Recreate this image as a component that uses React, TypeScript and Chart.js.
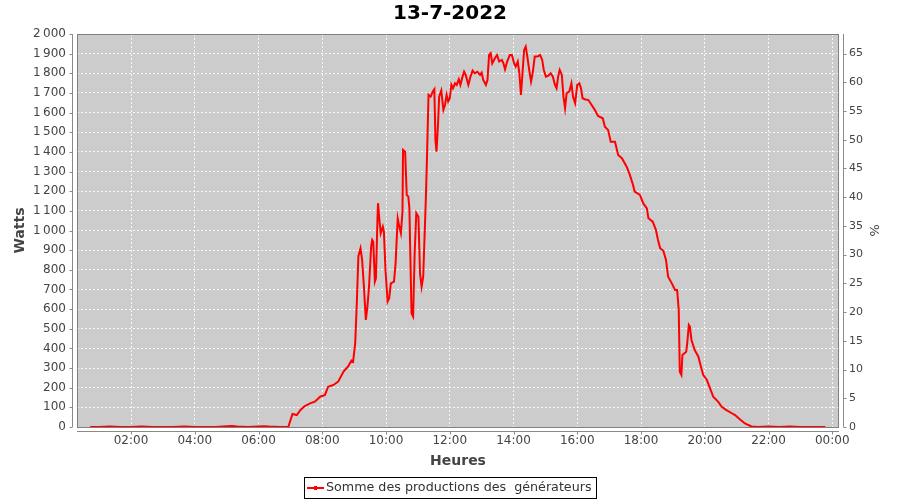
import React, { useEffect, useRef } from "react";
import { Chart, registerables } from "chart.js";

Chart.register(...registerables);

const chartTitle = "13-7-2022";
const seriesLabel = "Somme des productions des  générateurs";
const xAxisTitle = "Heures";
const yAxisTitle = "Watts";
const y2AxisTitle = "%";

const times = [
  "00:43", "01:00", "01:20", "01:40", "02:00", "02:20", "02:40", "03:00", "03:20", "03:40",
  "04:00", "04:20", "04:40", "05:00", "05:10", "05:20", "05:40", "06:00", "06:10", "06:20",
  "06:40", "06:56", "07:04", "07:12", "07:19", "07:27", "07:37", "07:46", "07:56", "08:05",
  "08:11", "08:21", "08:30", "08:40", "08:49", "08:55", "08:58", "09:02", "09:05", "09:08",
  "09:12", "09:15", "09:18", "09:22", "09:25", "09:28", "09:32", "09:34", "09:36", "09:39",
  "09:41", "09:44", "09:45", "09:47", "09:50", "09:54", "09:56", "09:59", "10:03", "10:06",
  "10:09", "10:15", "10:18", "10:22", "10:25", "10:28", "10:31", "10:32", "10:36", "10:39",
  "10:42", "10:44", "10:48", "10:51", "10:54", "10:57", "11:01", "11:04", "11:07", "11:10",
  "11:15", "11:17", "11:20", "11:24", "11:28", "11:31", "11:33", "11:35", "11:38", "11:40",
  "11:44", "11:48", "11:51", "11:54", "11:57", "12:00", "12:03", "12:06", "12:10", "12:13",
  "12:17", "12:20", "12:24", "12:27", "12:30", "12:35", "12:39", "12:43", "12:47", "12:52",
  "12:57", "13:00", "13:03", "13:08", "13:11", "13:14", "13:17", "13:20", "13:25", "13:29",
  "13:33", "13:38", "13:41", "13:44", "13:48", "13:53", "13:57", "14:01", "14:04", "14:08",
  "14:11", "14:14", "14:16", "14:20", "14:23", "14:26", "14:30", "14:33", "14:36", "14:40",
  "14:45", "14:50", "14:54", "14:57", "15:01", "15:05", "15:10", "15:14", "15:18", "15:21",
  "15:24", "15:27", "15:31", "15:34", "15:37", "15:40", "15:45", "15:49", "15:52", "15:56",
  "16:00", "16:04", "16:07", "16:10", "16:14", "16:21", "16:27", "16:33", "16:39", "16:48",
  "16:52", "16:58", "17:03", "17:11", "17:17", "17:24", "17:33", "17:39", "17:45", "17:48",
  "17:58", "18:04", "18:11", "18:14", "18:22", "18:28", "18:32", "18:36", "18:42", "18:47",
  "18:51", "18:58", "19:04", "19:08", "19:11", "19:13", "19:16", "19:18", "19:25", "19:27",
  "19:30", "19:32", "19:35", "19:41", "19:48", "19:52", "19:57", "20:04", "20:10", "20:16",
  "20:25", "20:32", "20:40", "20:51", "20:57", "21:06", "21:15", "21:22", "21:28", "21:40",
  "22:00", "22:20", "22:40", "23:00", "23:20", "23:47",
];

const watts = [
  0, 0, 2, 0, 0, 2, 0, 0, 0, 2,
  0, 0, 0, 4, 5, 2, 0, 3, 4, 2,
  0, 0, 66, 61, 87, 107, 120, 129, 154, 163,
  205, 214, 231, 282, 310, 338, 332, 426, 630, 870,
  910, 850, 731, 545, 612, 714, 918, 952, 943, 740,
  757, 1070, 1139, 1070, 986, 1020, 994, 799, 638, 655,
  731, 740, 833, 1062, 1020, 986, 1096, 1410, 1401, 1181,
  1172, 1113, 579, 562, 892, 1088, 1070, 782, 714, 765,
  1164, 1359, 1690, 1681, 1707, 1719, 1461, 1401, 1546, 1681,
  1712, 1614, 1639, 1690, 1656, 1673, 1741, 1724, 1749, 1741,
  1770, 1741, 1783, 1808, 1792, 1741, 1783, 1814, 1800, 1808,
  1792, 1803, 1766, 1741, 1766, 1893, 1902, 1851, 1877, 1893,
  1860, 1868, 1851, 1820, 1860, 1893, 1893, 1851, 1834, 1860,
  1800, 1690, 1766, 1919, 1936, 1885, 1808, 1758, 1800, 1885,
  1885, 1893, 1868, 1817, 1783, 1787, 1800, 1783, 1741, 1724,
  1783, 1817, 1792, 1681, 1622, 1699, 1707, 1749, 1681, 1648,
  1741, 1749, 1724, 1673, 1668, 1664, 1639, 1614, 1583, 1571,
  1528, 1512, 1452, 1452, 1384, 1368, 1325, 1283, 1232, 1198,
  1181, 1139, 1113, 1062, 1045, 1003, 952, 910, 897, 850,
  765, 731, 697, 697, 596, 281, 265, 367, 383, 426,
  519, 511, 443, 392, 358, 316, 265, 239, 197, 154,
  129, 103, 87, 70, 61, 39, 19, 10, 3, 0,
  2, 0, 2, 0, 0, 0,
];

const xTickMinutes = [120, 240, 360, 480, 600, 720, 840, 960, 1080, 1200, 1320, 1440];
const percentTicks = [0, 5, 10, 15, 20, 25, 30, 35, 40, 45, 50, 55, 60, 65];
const xRange = [18.3, 1452.7];
const wattRange = [0, 2000];
const percentRange = [0, 68.4];

const FONT = '"DejaVu Sans", "Noto Sans", sans-serif';

function toMinutes(s: string): number {
  const [h, m] = s.split(":").map(Number);
  return h * 60 + m;
}

function fmtTime(v: number): string {
  const m = ((Math.round(v) % 1440) + 1440) % 1440;
  const h = Math.floor(m / 60);
  const mm = m % 60;
  return `${String(h).padStart(2, "0")}:${String(mm).padStart(2, "0")}`;
}

function fmtWatts(v: number): string {
  if (v >= 1000) {
    return `${Math.floor(v / 1000)}\u2009${String(v % 1000).padStart(3, "0")}`;
  }
  return String(v);
}

const framePlugin = {
  id: "frame",
  beforeDraw(chart: any) {
    const { ctx, chartArea: a, width, height } = chart;
    ctx.save();
    ctx.fillStyle = "#ffffff";
    ctx.fillRect(0, 0, width, height);
    ctx.fillStyle = "#cccccc";
    ctx.fillRect(a.left, a.top, a.right - a.left, a.bottom - a.top);
    ctx.restore();
  },
  afterDatasetsDraw(chart: any) {
    const { ctx, chartArea: a, scales } = chart;
    ctx.save();
    ctx.strokeStyle = "#808080";
    ctx.lineWidth = 1;
    ctx.strokeRect(a.left + 0.5, a.top + 0.5, a.right - a.left - 1, a.bottom - a.top);
    ctx.strokeStyle = "#8a8a8a";
    ctx.beginPath();
    const lx = a.left - 4.5;
    ctx.moveTo(lx, a.top);
    ctx.lineTo(lx, a.bottom);
    scales.y.ticks.forEach((t: any) => {
      const p = Math.round(scales.y.getPixelForValue(t.value)) + 0.5;
      ctx.moveTo(lx, p);
      ctx.lineTo(lx - 3, p);
    });
    const rx = a.right + 4.5;
    ctx.moveTo(rx, a.top);
    ctx.lineTo(rx, a.bottom);
    scales.y2.ticks.forEach((t: any) => {
      const p = Math.round(scales.y2.getPixelForValue(t.value)) + 0.5;
      ctx.moveTo(rx, p);
      ctx.lineTo(rx + 3, p);
    });
    const by = a.bottom + 4.5;
    ctx.moveTo(a.left, by);
    ctx.lineTo(a.right, by);
    scales.x.ticks.forEach((t: any) => {
      const p = Math.round(scales.x.getPixelForValue(t.value)) + 0.5;
      ctx.moveTo(p, by);
      ctx.lineTo(p, by + 3);
    });
    ctx.stroke();
    ctx.restore();
  },
  afterDraw(chart: any) {
    const { ctx, width } = chart;
    const label = chart.data.datasets[0].label;
    ctx.save();
    ctx.font = `12.7px ${FONT}`;
    const tw = ctx.measureText(label).width;
    const w = Math.round(tw + 26);
    const h = 21;
    const x0 = Math.round(width / 2 - w / 2);
    const y0 = 477;
    ctx.fillStyle = "#ffffff";
    ctx.fillRect(x0, y0, w, h);
    ctx.strokeStyle = "#000000";
    ctx.lineWidth = 1;
    ctx.strokeRect(x0 + 0.5, y0 + 0.5, w, h);
    const cy = y0 + h / 2 + 0.5;
    ctx.strokeStyle = "#ff0000";
    ctx.lineWidth = 2;
    ctx.beginPath();
    ctx.moveTo(x0 + 3, cy);
    ctx.lineTo(x0 + 20, cy);
    ctx.stroke();
    ctx.fillStyle = "#ff0000";
    ctx.fillRect(x0 + 10, cy - 2, 3, 4);
    ctx.fillStyle = "#333333";
    ctx.textBaseline = "middle";
    ctx.textAlign = "left";
    ctx.fillText(label, x0 + 22, cy);
    ctx.restore();
  },
};

export default function App() {
  const canvasRef = useRef<HTMLCanvasElement | null>(null);

  useEffect(() => {
    const canvas = canvasRef.current;
    if (!canvas) return;
    const points = times.map((t, i) => ({ x: toMinutes(t), y: watts[i] }));
    const gridCommon = {
      color: "rgba(255,255,255,0.85)",
      lineWidth: 1,
      drawTicks: false,
    };
    const chart = new Chart(canvas, {
      type: "line",
      data: {
        datasets: [
          {
            label: seriesLabel,
            data: points,
            borderColor: "#ff0000",
            backgroundColor: "#ff0000",
            borderWidth: 2,
            pointRadius: 0,
            tension: 0,
            fill: false,
            xAxisID: "x",
            yAxisID: "y",
          },
        ],
      },
      options: {
        responsive: false,
        animation: false,
        devicePixelRatio: 1,
        layout: { padding: 0 },
        font: { family: FONT },
        plugins: {
          legend: { display: false },
          tooltip: { enabled: false },
          title: {
            display: true,
            text: chartTitle,
            color: "#000000",
            font: { family: FONT, size: 20, weight: "bold" },
            padding: { top: 2, bottom: 8 },
          },
        },
        scales: {
          x: {
            type: "linear",
            position: "bottom",
            min: xRange[0],
            max: xRange[1],
            afterBuildTicks: (scale: any) => {
              scale.ticks = xTickMinutes.map((v) => ({ value: v }));
            },
            afterFit: (scale: any) => {
              scale.height = 73;
            },
            ticks: {
              autoSkip: false,
              maxRotation: 0,
              padding: 7,
              color: "#444444",
              font: { family: FONT, size: 12 },
              callback: (v: any) => fmtTime(Number(v)),
            },
            grid: gridCommon,
            border: { display: false, dash: [2, 2] },
            title: {
              display: true,
              text: xAxisTitle,
              color: "#444444",
              font: { family: FONT, size: 14, weight: "bold" },
              padding: { top: 0, bottom: 30 },
            },
          },
          y: {
            type: "linear",
            position: "left",
            min: wattRange[0],
            max: wattRange[1],
            afterFit: (scale: any) => {
              scale.width = 77;
            },
            ticks: {
              stepSize: 100,
              autoSkip: false,
              padding: 11,
              color: "#444444",
              font: { family: FONT, size: 12 },
              callback: (v: any) => fmtWatts(Number(v)),
            },
            grid: gridCommon,
            border: { display: false, dash: [2, 2] },
            title: {
              display: true,
              text: yAxisTitle,
              color: "#444444",
              font: { family: FONT, size: 14, weight: "bold" },
              padding: { top: 12, bottom: 0 },
            },
          },
          y2: {
            type: "linear",
            position: "right",
            display: true,
            min: percentRange[0],
            max: percentRange[1],
            afterBuildTicks: (scale: any) => {
              scale.ticks = percentTicks.map((v) => ({ value: v }));
            },
            afterFit: (scale: any) => {
              scale.width = 61;
            },
            ticks: {
              autoSkip: false,
              padding: 10,
              color: "#444444",
              font: { family: FONT, size: 11 },
              callback: (v: any) => String(v),
            },
            grid: { display: false, drawTicks: false },
            border: { display: false },
            title: {
              display: true,
              text: y2AxisTitle,
              color: "#444444",
              font: { family: FONT, size: 13 },
              padding: { top: 19, bottom: 0 },
            },
          },
        },
      },
      plugins: [framePlugin],
    } as any);
    return () => {
      chart.destroy();
    };
  }, []);

  return (
    <div style={{ position: "absolute", left: 0, top: 0, width: 900, height: 500 }}>
      <canvas ref={canvasRef} width={900} height={500} style={{ width: 900, height: 500, display: "block" }} />
    </div>
  );
}
